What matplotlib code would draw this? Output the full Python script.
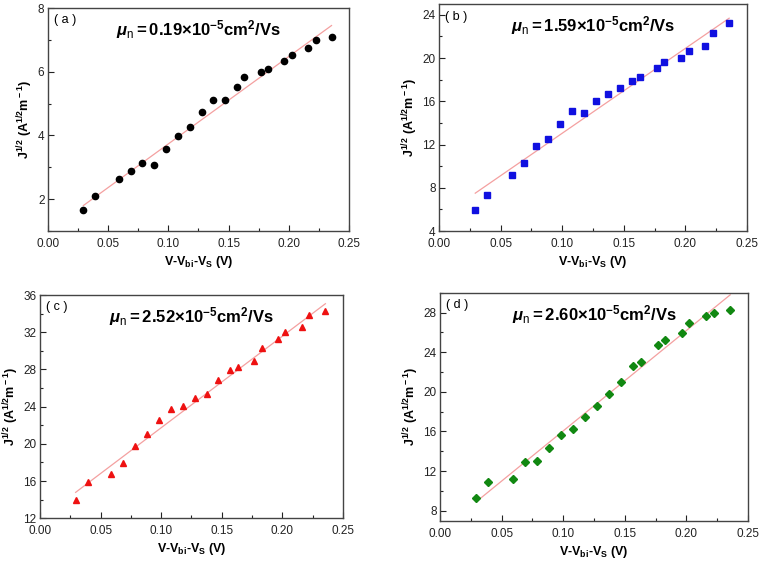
import numpy as np
import matplotlib
matplotlib.use('Agg')
import matplotlib.pyplot as plt
from matplotlib.ticker import MultipleLocator, FormatStrFormatter

plt.rcParams['font.family'] = ['Liberation Sans', 'DejaVu Sans']
plt.rcParams['mathtext.fontset'] = 'custom'
plt.rcParams['mathtext.rm'] = 'Liberation Sans:bold'
plt.rcParams['mathtext.it'] = 'Liberation Sans:italic:bold'
plt.rcParams['mathtext.bf'] = 'Liberation Sans:bold'
plt.rcParams['mathtext.sf'] = 'Liberation Sans'

# shared voltage axis (V - Vbi - Vs)
volt = [0.0294, 0.0393, 0.0589, 0.0687, 0.0785, 0.0883, 0.0981, 0.108, 0.1178,
        0.1276, 0.1374, 0.1472, 0.157, 0.163, 0.1766, 0.183, 0.1962, 0.2025,
        0.2158, 0.2223, 0.2355]

ja = [1.65, 2.10, 2.63, 2.87, 3.14, 3.08, 3.58, 3.98, 4.25, 4.72, 5.12, 5.11,
      5.53, 5.82, 5.98, 6.10, 6.33, 6.51, 6.75, 6.99, 7.10]
jb = [5.95, 7.31, 9.20, 10.28, 11.86, 12.54, 13.88, 15.08, 14.93, 16.01, 16.72,
      17.25, 17.90, 18.24, 19.05, 19.60, 20.04, 20.69, 21.15, 22.30, 23.29]
jc = [14.01, 15.90, 16.73, 17.95, 19.81, 21.06, 22.60, 23.75, 24.11, 24.97, 25.40,
      26.83, 27.90, 28.30, 28.91, 30.30, 31.31, 31.99, 32.52, 33.88, 34.24]
jd = [9.31, 10.90, 11.20, 12.95, 13.02, 14.30, 15.61, 16.25, 17.49, 18.54, 19.78,
      21.03, 22.61, 23.05, 24.77, 25.27, 25.98, 26.99, 27.66, 27.97, 28.30]

# linear fit lines (values at first and last voltage)
fit_x = [0.0294, 0.2355]
fit_a = [1.80, 7.45]
fit_b = [7.50, 23.69]
fit_c = [14.79, 35.07]
fit_d = [8.91, 29.78]

labels = ['( a )', '( b )', '( c )', '( d )']
mobility = ['0.19', '1.59', '2.52', '2.60']

panels = [
    # data, fit, marker, colour, size, ylim, ystep, axes rect
    (ja, fit_a, 'o', 'black', 4.5, (1, 8), 2, [0.0627, 0.5933, 0.3935, 0.3926]),
    (jb, fit_b, 's', '#1010e0', 3.8, (4, 25), 4, [0.5739, 0.5933, 0.4026, 0.3996]),
    (jc, fit_c, '^', '#ee1111', 4.8, (12, 36), 4, [0.0523, 0.0875, 0.3960, 0.3930]),
    (jd, fit_d, 'D', '#118811', 3.8, (7, 30), 4, [0.5752, 0.0833, 0.4026, 0.4014]),
]

fig = plt.figure(figsize=(7.65, 5.68), dpi=100)

for i, (y, fit, mk, col, ms, ylim, ystep, rect) in enumerate(panels):
    ax = fig.add_axes(rect)
    ax.plot(fit_x, fit, color='#f4a0a0', lw=0.9, zorder=1)
    ax.plot(volt, y, ls='none', marker=mk, color=col, ms=ms, zorder=2)
    ax.set_xlim(0, 0.25)
    ax.set_ylim(*ylim)
    ax.xaxis.set_major_locator(MultipleLocator(0.05))
    ax.xaxis.set_minor_locator(MultipleLocator(0.025))
    ax.xaxis.set_major_formatter(FormatStrFormatter('%.2f'))
    ax.yaxis.set_major_locator(MultipleLocator(ystep))
    ax.yaxis.set_minor_locator(MultipleLocator(ystep / 2))
    ax.tick_params(which='both', direction='in', labelsize=8.5, colors='#222222',
                   width=0.8)
    ax.tick_params(which='major', length=4)
    ax.tick_params(which='minor', length=2.5)
    ax.tick_params(axis='y', pad=2.5)
    ax.tick_params(axis='x', pad=5)
    for s in ax.spines.values():
        s.set_color('#444444')
        s.set_linewidth(1.0)
    ax.set_xlabel(r'V-V$_{\rm bi}$-V$_{\rm S}$ (V)', fontsize=9, fontweight='bold',
                  labelpad=3)
    ax.set_ylabel(r'J$^{\rm 1/2}$ (A$^{\rm 1/2}$m$^{\rm -1}$)', fontsize=9,
                  fontweight='bold', labelpad=2)
    ax.text(0.02, 0.945, labels[i], transform=ax.transAxes, fontsize=9,
            ha='left', va='center')
    ax.text(0.5, 0.905,
            r'$\mathit{\mu}_{\mathsf{n}}$' + r'$\rm{=}' + mobility[i]
            + r'{\times}10^{-5}cm^{2}/Vs$',
            transform=ax.transAxes, fontsize=12, ha='center', va='center')

fig.savefig('out.png', dpi=100)
